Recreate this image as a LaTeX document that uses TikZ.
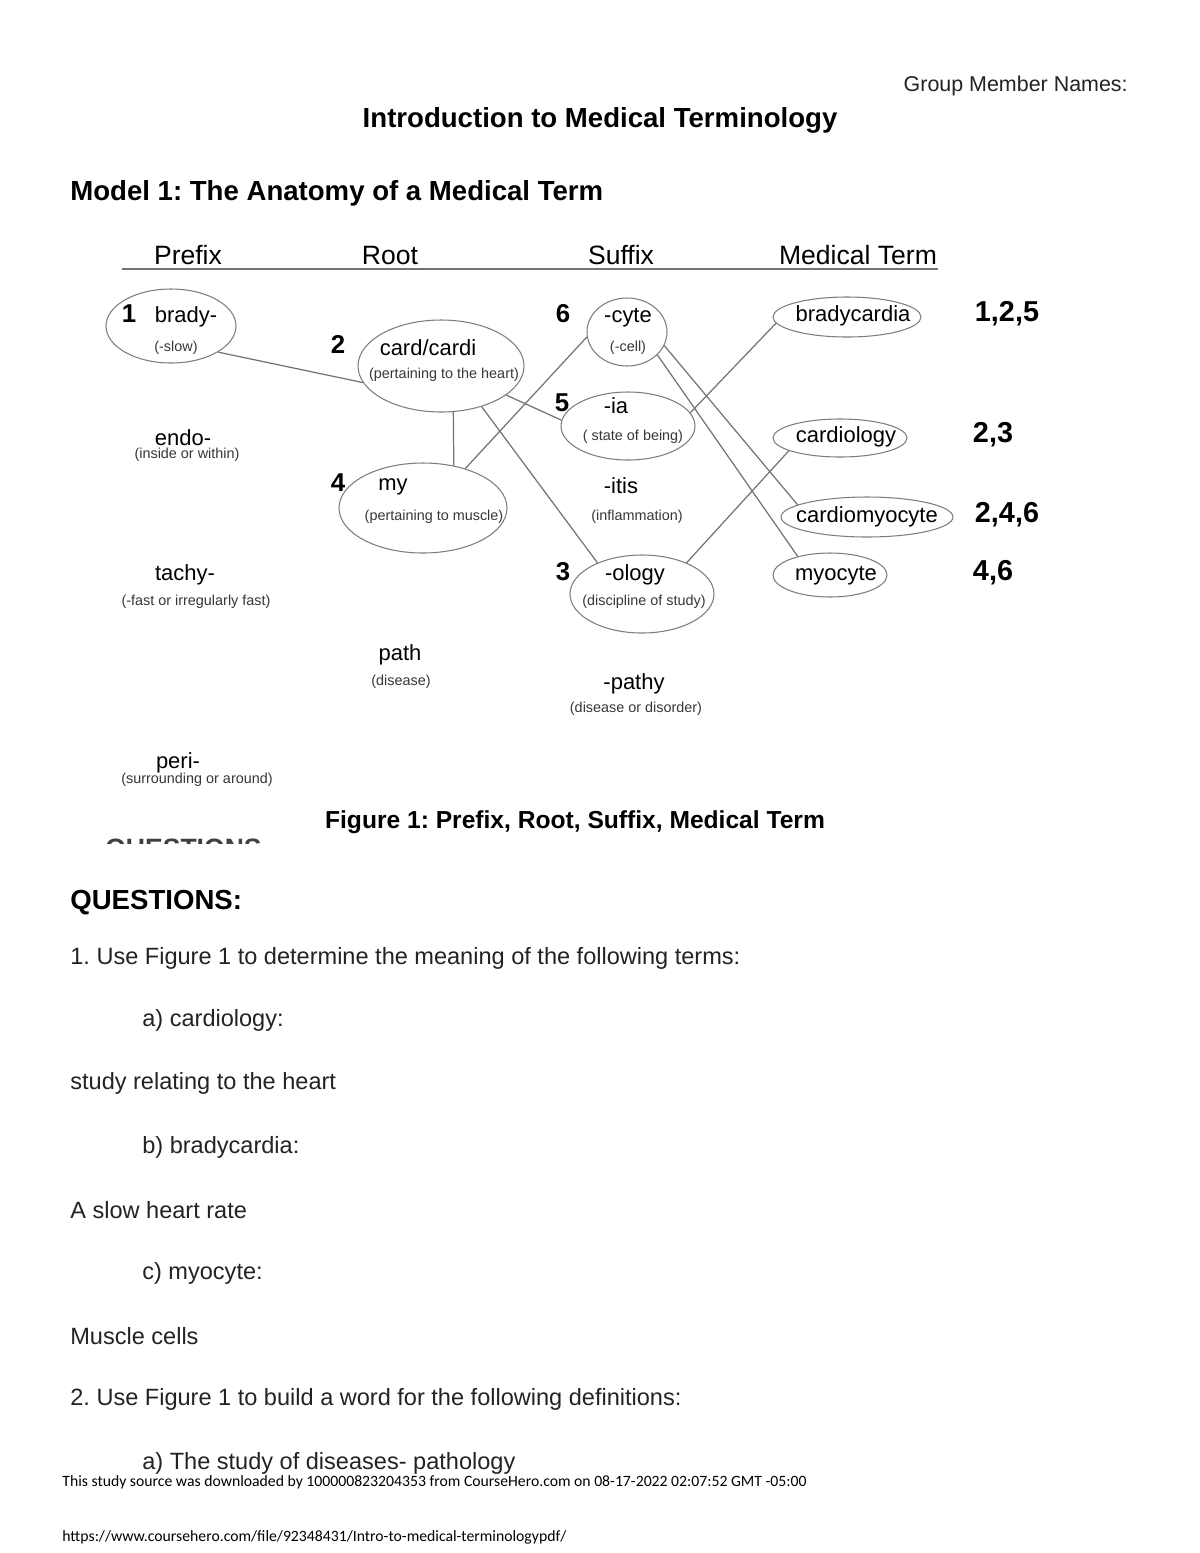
\documentclass[tikz,border=0pt]{standalone}
\usepackage{fontspec}
\setmainfont{Liberation Sans}
\newfontfamily\footfont{Carlito}
\usetikzlibrary{shapes.geometric}
\definecolor{linec}{RGB}{115,115,115}
\definecolor{ellc}{RGB}{125,125,125}
\definecolor{smallc}{RGB}{55,55,55}
\definecolor{bodyc}{RGB}{35,35,35}
\newcommand{\fsz}[1]{\fontsize{#1}{#1}\selectfont\frenchspacing}
\begin{document}
\frenchspacing
\begin{tikzpicture}[x=0.02cm,y=-0.02cm,
  txt/.style={inner sep=0pt},
  ell/.style 2 args={ellipse, draw=ellc, line width=0.6pt, inner sep=0pt,
     minimum width=#1*0.02cm, minimum height=#2*0.02cm},
  conn/.style={draw=linec, line width=0.7pt},
  head/.style={txt, anchor=base, font=\fsz{15.1pt}},
  big/.style={txt, yshift=-1.3pt, font=\fsz{12.5pt}},
  small/.style={txt, font=\fsz{8.2pt}, text=smallc},
  num/.style={txt, font=\bfseries\fsz{14.7pt}},
  rnum/.style={txt, font=\bfseries\fsz{16.4pt}},
  body/.style={txt, anchor=west, font=\fsz{13.4pt}, text=bodyc},
  foot/.style={txt, anchor=west, font=\footfont\fsz{8.95pt}}]
\fill[white] (0,0) rectangle (1200,1553);
\useasboundingbox (0,0) rectangle (1200,1553);

% page header
\node[txt, anchor=east, font=\fsz{12.2pt}, text=bodyc] (group) at (1128,86) {Group Member Names:};
\node[txt, font=\bfseries\fsz{15.7pt}] (title) at (600,120) {Introduction to Medical Terminology};
\node[txt, anchor=west, font=\bfseries\fsz{15.7pt}] (model) at (70,193) {Model 1: The Anatomy of a Medical Term};

% column headers
\node[head] (hprefix) at (188,264) {Prefix};
\node[head] (hroot) at (390,264) {Root};
\node[head] (hsuffix) at (621,264) {Suffix};
\node[head] (hterm) at (858,264) {Medical Term};
\coordinate (rulel) at (122,269);
\coordinate (ruler) at (938,269);
\draw[draw=linec, line width=1.2pt] (rulel) -- (ruler);

% ellipses
\node[ell={130}{74}] (brady) at (171,326) {};
\node[ell={166}{92}] (card) at (441,366) {};
\node[ell={168}{90}] (my) at (423,508) {};
\node[ell={80}{68}] (cyte) at (627,332) {};
\node[ell={134}{68}] (ia) at (628,426) {};
\node[ell={144}{78}] (ology) at (642,594) {};
\node[ell={148}{40}] (tbrady) at (847,317) {};
\node[ell={134}{38}] (tcardio) at (840,438) {};
\node[ell={172}{40}] (tcmyo) at (867,517) {};
\node[ell={114}{44}] (tmyo) at (830,575) {};

% prefix column
\node[num] (n1) at (129,314) {1};
\node[big] (lbrady) at (186,315) {brady-};
\node[small] (sbrady) at (176,348) {(-slow)};
\node[big] (lendo) at (183,435) {endo-};
\node[small] (sendo) at (187,455) {(inside or within)};
\node[big] (ltachy) at (185,573) {tachy-};
\node[small] (stachy) at (196,602) {(-fast or irregularly fast)};
\node[big] (lperi) at (178,761) {peri-};
\node[small] (speri) at (197,780) {(surrounding or around)};

% root column
\node[num] (n2) at (338,344) {2};
\node[big] (lcard) at (428,345) {card/cardi};
\node[small] (scard) at (444,375) {(pertaining to the heart)};
\node[num] (n4) at (338,483) {4};
\node[big] (lmy) at (393,485) {my};
\node[small] (smy) at (434,517) {(pertaining to muscle)};
\node[big] (lpath) at (400,653) {path};
\node[small] (spath) at (401,682) {(disease)};

% suffix column
\node[num] (n6) at (563,314) {6};
\node[big] (lcyte) at (628,315) {-cyte};
\node[small] (scyte) at (628,348) {(-cell)};
\node[num] (n5) at (562,403) {5};
\node[big] (lia) at (616,403) {-ia};
\node[small] (sia) at (633,437) {( state of being)};
\node[big] (litis) at (621,483) {-itis};
\node[small] (sitis) at (637,517) {(inflammation)};
\node[num] (n3) at (563,572) {3};
\node[big] (lology) at (635,573) {-ology};
\node[small] (sology) at (644,602) {(discipline of study)};
\node[big] (lpathy) at (634,682) {-pathy};
\node[small] (spathy) at (636,709) {(disease or disorder)};

% medical terms
\node[big] (ltbrady) at (853,314) {bradycardia};
\node[big] (ltcardio) at (846,435) {cardiology};
\node[big] (ltcmyo) at (867,515) {cardiomyocyte};
\node[big] (ltmyo) at (836,573) {myocyte};
\node[rnum] (r1) at (1007,314) {1,2,5};
\node[rnum] (r2) at (993,435) {2,3};
\node[rnum] (r3) at (1007,515) {2,4,6};
\node[rnum] (r4) at (993,573) {4,6};

% connectors
\draw[conn] (brady.-29) -- (card.192);
\draw[conn] (card.-75) -- (my.54.5);
\draw[conn] (my.43) -- (cyte.187);
\draw[conn] (card.-24) -- (ia.175);
\draw[conn] (card.-45) -- (ology.145);
\draw[conn] (ia.12) -- (tbrady.185);
\draw[conn] (ology.35) -- (tcardio.194);
\draw[conn] (cyte.-20) -- (tcmyo.170);
\draw[conn] (cyte.-37) -- (tmyo.150);

% caption
\node[txt, font=\bfseries\fsz{14pt}] (caption) at (575,822) {Figure 1: Prefix, Root, Suffix, Medical Term};
\begin{scope}
\clip (90,836) rectangle (300,843);
\node[txt, anchor=base west, font=\bfseries\fsz{15.1pt}, text=black!75] (cut) at (105,857) {QUESTIONS};
\end{scope}

% questions
\node[txt, anchor=west, font=\bfseries\fsz{15.7pt}] (qhead) at (70,903) {QUESTIONS:};
\node[body] (q1) at (70,958) {1. Use Figure 1 to determine the meaning of the following terms:};
\node[body] (q1a) at (142,1020) {a) cardiology:};
\node[body] (a1a) at (70,1083) {study relating to the heart};
\node[body] (q1b) at (142,1147) {b) bradycardia:};
\node[body] (a1b) at (70,1210) {A slow heart rate};
\node[body] (q1c) at (142,1273) {c) myocyte:};
\node[body] (a1c) at (70,1336) {Muscle cells};
\node[body] (q2) at (70,1399) {2. Use Figure 1 to build a word for the following definitions:};
\node[body] (q2a) at (142,1463) {a) The study of diseases- pathology};

% footer
\node[foot] (foot1) at (62,1482) {This study source was downloaded by 100000823204353 from CourseHero.com on 08-17-2022 02:07:52 GMT -05:00};
\node[foot] (foot2) at (62,1537) {https://www.coursehero.com/file/92348431/Intro-to-medical-terminologypdf/};
\end{tikzpicture}
\end{document}
